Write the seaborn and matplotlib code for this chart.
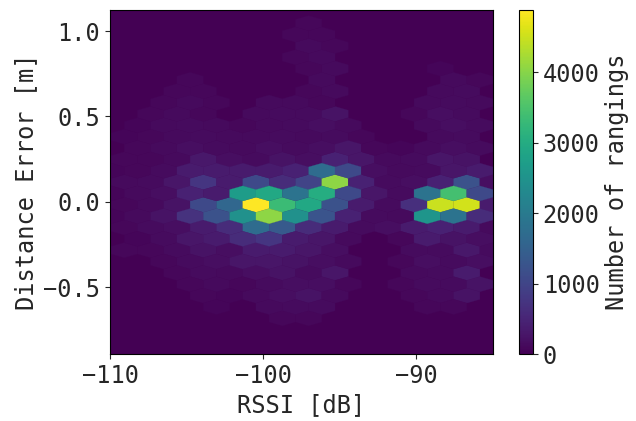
import numpy as np
import matplotlib
matplotlib.use("Agg")
import matplotlib.pyplot as plt
import seaborn as sns

# Hex bin centres (RSSI in dB); odd rows are shifted half a bin
rssi_even = [-110.79, -109.07, -107.35, -105.63, -103.91, -102.19, -100.47, -98.75,
             -97.03, -95.31, -93.59, -91.87, -90.15, -88.43, -86.71, -84.99]
rssi_odd = [-109.93, -108.21, -106.49, -104.77, -103.05, -101.33, -99.61, -97.89,
            -96.17, -94.45, -92.73, -91.01, -89.29, -87.57, -85.85, -84.13]

# Distance error of each hex row (top to bottom), first row is an "even" row
error_rows = [1.046, 0.980, 0.913, 0.847, 0.780, 0.714, 0.647, 0.581, 0.514, 0.448,
              0.381, 0.315, 0.248, 0.182, 0.115, 0.049, -0.018, -0.085, -0.151,
              -0.218, -0.284, -0.351, -0.417, -0.484, -0.550, -0.617, -0.683]

# Number of rangings per hex, one list per row
counts_by_row = [
    [0, 0, 0, 0, 0, 0, 0, 0, 90, 0, 0, 0, 0, 0, 0, 0],
    [0, 0, 0, 0, 0, 0, 0, 90, 90, 0, 0, 0, 0, 0, 0, 0],
    [0, 0, 0, 0, 0, 0, 0, 0, 120, 90, 0, 0, 0, 0, 0, 0],
    [0, 0, 0, 0, 0, 0, 0, 90, 120, 0, 0, 0, 0, 0, 0, 0],
    [0, 0, 0, 0, 0, 0, 0, 0, 90, 120, 0, 0, 0, 60, 0, 0],
    [0, 0, 0, 90, 0, 0, 0, 0, 120, 0, 0, 0, 0, 120, 90, 0],
    [0, 0, 0, 90, 90, 0, 0, 0, 90, 120, 0, 0, 0, 120, 150, 0],
    [0, 0, 90, 120, 90, 0, 120, 120, 90, 0, 0, 0, 120, 150, 120, 0],
    [0, 0, 90, 120, 90, 0, 120, 150, 150, 230, 0, 0, 90, 190, 150, 0],
    [0, 60, 120, 150, 120, 90, 120, 150, 190, 120, 0, 0, 120, 190, 150, 0],
    [0, 60, 90, 120, 150, 120, 120, 150, 120, 150, 90, 0, 0, 120, 150, 0],
    [0, 90, 120, 190, 150, 120, 190, 150, 190, 270, 90, 60, 120, 190, 150, 0],
    [0, 90, 90, 120, 310, 190, 150, 230, 190, 450, 270, 120, 150, 270, 230, 0],
    [60, 90, 150, 350, 350, 350, 350, 450, 1710, 1070, 190, 120, 150, 270, 350, 0],
    [0, 120, 150, 270, 750, 350, 1070, 600, 980, 4050, 450, 150, 190, 450, 1220, 190],
    [60, 120, 190, 450, 350, 2680, 2930, 1850, 3030, 1070, 270, 150, 1850, 3420, 1070, 0],
    [0, 90, 120, 230, 1070, 1610, 4880, 3320, 2930, 1220, 350, 150, 650, 4490, 4540, 350],
    [60, 120, 230, 700, 1220, 2440, 4050, 2440, 1270, 450, 150, 120, 2540, 1850, 600, 0],
    [0, 90, 150, 190, 350, 600, 1710, 1370, 600, 350, 150, 190, 350, 450, 350, 120],
    [0, 60, 150, 270, 350, 600, 750, 350, 270, 120, 0, 90, 350, 230, 190, 0],
    [0, 90, 90, 150, 230, 190, 350, 350, 270, 190, 0, 0, 150, 150, 310, 150],
    [0, 0, 90, 150, 190, 270, 270, 230, 190, 120, 0, 90, 190, 150, 190, 0],
    [0, 0, 0, 90, 150, 120, 190, 230, 150, 270, 0, 0, 120, 150, 350, 0],
    [0, 0, 0, 90, 120, 90, 150, 190, 190, 90, 0, 90, 150, 150, 230, 0],
    [0, 0, 0, 0, 90, 60, 120, 190, 230, 120, 0, 0, 90, 120, 230, 0],
    [0, 0, 0, 0, 60, 0, 120, 150, 150, 0, 0, 0, 90, 90, 0, 0],
    [0, 0, 0, 0, 0, 0, 0, 90, 90, 0, 0, 0, 0, 0, 0, 0],
]

# flatten into (rssi, error, count) samples
xs, ys, cs = [], [], []
for r, (err, row) in enumerate(zip(error_rows, counts_by_row)):
    cols = rssi_even if r % 2 == 0 else rssi_odd
    for x, c in zip(cols, row):
        if c > 0:
            xs.append(x)
            ys.append(err)
            cs.append(c)

sns.set_style("ticks")
plt.rcParams["font.family"] = ["DejaVu Sans Mono"]
plt.rcParams["font.size"] = 17

cmap = sns.color_palette("viridis", as_cmap=True)

fig = plt.figure(figsize=(6.36, 4.21), dpi=100)
ax = fig.add_axes([0.173, 0.159, 0.602, 0.817])
cax = fig.add_axes([0.816, 0.159, 0.022, 0.817])

ax.set_facecolor(cmap(0.0))
hb = ax.hexbin(xs, ys, C=cs, reduce_C_function=np.sum, gridsize=(15, 17),
               extent=(-110.79, -84.99, -1.082, 1.179), cmap=cmap,
               vmin=0, linewidths=0.2, edgecolors="face")

ax.set_xlim(-110, -85)
ax.set_ylim(-0.893, 1.123)
ax.set_xticks([-110, -100, -90])
ax.set_yticks([-0.5, 0.0, 0.5, 1.0])
ax.set_xlabel("RSSI [dB]")
ax.set_ylabel("Distance Error [m]")
for s in ax.spines.values():
    s.set_color("black")

cb = fig.colorbar(hb, cax=cax)
cb.set_ticks([0, 1000, 2000, 3000, 4000])
cb.set_label("Number of rangings")
cb.outline.set_edgecolor("black")

fig.savefig("out.png", dpi=100)
